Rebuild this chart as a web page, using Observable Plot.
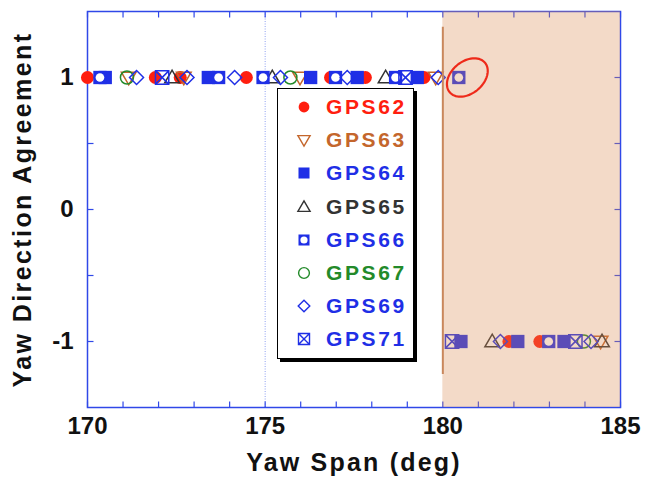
<!DOCTYPE html>
<html><head><meta charset="utf-8">
<script src="https://cdn.jsdelivr.net/npm/d3@7"></script>
<script src="https://cdn.jsdelivr.net/npm/@observablehq/plot@0.6"></script>
<style>
body{margin:0;background:#fff;}
#wrap{position:relative;width:646px;height:480px;font-family:"Liberation Sans",Arial,Helvetica,sans-serif;}
#legend{position:absolute;left:277px;top:88px;width:135px;height:269px;border:1px solid #000;box-shadow:3px 3px 0 #000;background:#fff;}
.row{position:absolute;left:0;width:135px;height:33px;}
.row svg{position:absolute;left:15px;top:5px;}
.row span{position:absolute;left:48px;top:3px;font-size:21px;font-weight:bold;letter-spacing:2.6px;line-height:26px;}
</style>
</head><body>
<div id="wrap"></div>
<script>
// ---- data (x = yaw span in deg) ----
const seriesNames = ["GPS62","GPS63","GPS64","GPS65","GPS66","GPS67","GPS69","GPS71"];
const gps62Agree = [170.0, 171.91, 172.61, 174.47, 176.84, 177.82, 179.47];
const gps62Disagree = [181.86, 182.73];
const gps63Agree = [171.16, 172.71, 175.98, 179.8];
const gps63Disagree = [184.44];
const gps64Agree = [170.5, 173.4, 176.28, 177.59, 179.28];
const gps64Disagree = [180.51, 182.11, 183.41];
const gps65Agree = [172.38, 175.2, 178.39];
const gps65Disagree = [181.39, 184.48];
const gps66Agree = [170.35, 173.69, 174.94, 176.98, 178.67, 180.45];
const gps66Disagree = [182.98];
const gps67Agree = [171.11, 175.71];
const gps67Disagree = [183.97];
const gps69Agree = [171.38, 172.8, 174.14, 175.43, 177.31, 179.87];
const gps69Disagree = [181.62, 184.17];
const gps71Agree = [172.1, 178.95];
const gps71Disagree = [180.26, 183.73];
const agreeLevels = [1, -1];

const xDomain = [170, 185];
const yDomain = [-1.5, 1.5];
const xTickLabels = [170, 175, 180, 185];
const yTickLabels = [1, 0, -1];
const xMinorTicks = [170,171,172,173,174,175,176,177,178,179,180,181,182,183,184,185];
const yMinorTicks = [-1, -0.5, 0, 0.5, 1];
const gridX = [175];
const flipRegion = [{x1: 180, x2: 185}];
const boundaryLine = [{x: 180, y1: 1.38, y2: -1.25}];
const highlight = [{x: 180.69, y: 1.0}];

// ---- symbols ----
const R = s => Math.sqrt(s / Math.PI);
const symCircle = {draw(c, s){const r = R(s)*0.93; c.moveTo(r,0); c.arc(0,0,r,0,2*Math.PI);}};
const symSquare = {draw(c, s){const r = R(s)*0.95; c.rect(-r,-r,2*r,2*r);}};
const symTriUp = {draw(c, s){const r = R(s); c.moveTo(-r*1.05, r*0.75); c.lineTo(r*1.05, r*0.75); c.lineTo(0, -r*1.05); c.closePath();}};
const symTriDown = {draw(c, s){const r = R(s); c.moveTo(-r*1.05, -r*0.75); c.lineTo(r*1.05, -r*0.75); c.lineTo(0, r*1.05); c.closePath();}};
const symDiamond = {draw(c, s){const r = R(s)*1.0; c.moveTo(0,-r); c.lineTo(r,0); c.lineTo(0,r); c.lineTo(-r,0); c.closePath();}};
const symSquareX = {draw(c, s){const r = R(s)*0.95; c.rect(-r,-r,2*r,2*r); c.moveTo(-r,-r); c.lineTo(r,r); c.moveTo(r,-r); c.lineTo(-r,r);}};
const symInnerCircle = {draw(c, s){const r = R(s)*0.62; c.moveTo(r,0); c.arc(0,0,r,0,2*Math.PI);}};
const tickUp = {draw(c){c.moveTo(0,0); c.lineTo(0,-6);}};
const tickDown = {draw(c){c.moveTo(0,0); c.lineTo(0,6);}};
const tickRight = {draw(c){c.moveTo(0,0); c.lineTo(6,0);}};
const tickLeft = {draw(c){c.moveTo(0,0); c.lineTo(-6,0);}};
const symEllipse = {draw(c){
  const rx = 23, ry = 16, a = -40*Math.PI/180, n = 72;
  for (let i = 0; i <= n; i++) {
    const t = 2*Math.PI*i/n, ex = rx*Math.cos(t), ey = ry*Math.sin(t);
    const px = ex*Math.cos(a) - ey*Math.sin(a), py = ex*Math.sin(a) + ey*Math.cos(a);
    if (i === 0) c.moveTo(px, py); else c.lineTo(px, py);
  }
  c.closePath();
}};

const RED = "#ff1e0f", ORANGE = "#c4662c", BLUE = "#1f2fe6", DARK = "#333333", GREEN = "#238a2a";

const series = [
  {name: "GPS62", agree: gps62Agree, dis: gps62Disagree, sym: symCircle, fill: RED, stroke: "none", text: RED},
  {name: "GPS63", agree: gps63Agree, dis: gps63Disagree, sym: symTriDown, fill: "none", stroke: ORANGE, text: ORANGE},
  {name: "GPS64", agree: gps64Agree, dis: gps64Disagree, sym: symSquare, fill: BLUE, stroke: "none", text: BLUE},
  {name: "GPS65", agree: gps65Agree, dis: gps65Disagree, sym: symTriUp, fill: "none", stroke: DARK, text: DARK},
  {name: "GPS66", agree: gps66Agree, dis: gps66Disagree, sym: symSquare, fill: BLUE, stroke: "none", text: BLUE, inner: true},
  {name: "GPS67", agree: gps67Agree, dis: gps67Disagree, sym: symCircle, fill: "none", stroke: GREEN, text: GREEN},
  {name: "GPS69", agree: gps69Agree, dis: gps69Disagree, sym: symDiamond, fill: "none", stroke: BLUE, text: BLUE},
  {name: "GPS71", agree: gps71Agree, dis: gps71Disagree, sym: symSquareX, fill: "none", stroke: BLUE, text: BLUE}
];

const pointMarks = [];
for (const s of series) {
  const data = [...s.agree.map(x => ({x, y: agreeLevels[0]})), ...s.dis.map(x => ({x, y: agreeLevels[1]}))];
  pointMarks.push(Plot.dot(data, {x: "x", y: "y", r: 7, symbol: s.sym, fill: s.fill, stroke: s.stroke, strokeWidth: 1.5}));
  if (s.inner) pointMarks.push(Plot.dot(data, {x: "x", y: "y", r: 7, symbol: symInnerCircle, fill: "#fff", stroke: "none"}));
}

const FONT = "Liberation Sans, Arial, Helvetica, sans-serif";
const chart = Plot.plot({
  width: 646, height: 480,
  marginLeft: 87, marginRight: 26, marginTop: 11, marginBottom: 73,
  style: {fontFamily: FONT, background: "#fff", overflow: "visible"},
  x: {domain: xDomain, axis: null},
  y: {domain: yDomain, axis: null},
  marks: [
    Plot.ruleX(gridX, {stroke: "#8fa0f0", strokeWidth: 1, strokeDasharray: "1,1.5"}),
    Plot.frame({stroke: "#3048e8", strokeWidth: 1.5}),
    Plot.dot(xMinorTicks, {x: d => d, frameAnchor: "bottom", symbol: tickUp, r: 1, stroke: "#3048e8", strokeWidth: 1.2}),
    Plot.dot(xMinorTicks, {x: d => d, frameAnchor: "top", symbol: tickDown, r: 1, stroke: "#3048e8", strokeWidth: 1.2}),
    Plot.dot(yMinorTicks, {y: d => d, frameAnchor: "left", symbol: tickRight, r: 1, stroke: "#3048e8", strokeWidth: 1.2}),
    Plot.dot(yMinorTicks, {y: d => d, frameAnchor: "right", symbol: tickLeft, r: 1, stroke: "#3048e8", strokeWidth: 1.2}),
    ...pointMarks,
    Plot.rect(flipRegion, {x1: "x1", x2: "x2", y1: () => yDomain[0], y2: () => yDomain[1], fill: "rgb(218,140,84)", fillOpacity: 0.32}),
    Plot.ruleX(boundaryLine, {x: "x", y1: "y1", y2: "y2", stroke: "#c9875c", strokeWidth: 2}),
    Plot.dot(highlight, {x: "x", y: "y", r: 1, symbol: symEllipse, fill: "none", stroke: "#ee2a1a", strokeWidth: 2.2}),
    Plot.text(xTickLabels, {x: d => d, frameAnchor: "bottom", dy: 26, lineAnchor: "bottom", text: d => String(d), fontSize: 24, fontWeight: "bold", fill: "#111"}),
    Plot.text(yTickLabels, {y: d => d, frameAnchor: "left", dx: -14, textAnchor: "end", text: d => String(d), fontSize: 24, fontWeight: "bold", fill: "#111"}),
    Plot.text(["Yaw Span (deg)"], {frameAnchor: "bottom", dy: 63, lineAnchor: "bottom", textAnchor: "middle", text: d => d, fontSize: 25, fontWeight: "bold", fill: "#111"}),
    Plot.text(["Yaw Direction Agreement"], {frameAnchor: "left", dx: -65, rotate: -90, textAnchor: "middle", text: d => d, fontSize: 25, fontWeight: "bold", fill: "#111"})
  ]
});
const wrap = document.getElementById("wrap");
wrap.appendChild(chart);
d3.select(chart).selectAll("text").filter(function(){return this.textContent === "Yaw Span (deg)";}).style("letter-spacing", "2.2px");
d3.select(chart).selectAll("text").filter(function(){return this.textContent === "Yaw Direction Agreement";}).style("letter-spacing", "2.4px");

// ---- legend ----
const legend = document.createElement("div");
legend.id = "legend";
wrap.appendChild(legend);
series.forEach((s, i) => {
  const row = d3.select(legend).append("div").attr("class", "row").style("top", (2 + i * 33.2) + "px");
  const svg = row.append("svg").attr("width", 22).attr("height", 22);
  const g = svg.append("g").attr("transform", "translate(11,11)");
  const size = Math.PI * 5.8 * 5.8;
  g.append("path").attr("d", d3.symbol(s.sym, size)()).attr("fill", s.fill).attr("stroke", s.stroke).attr("stroke-width", 1.4);
  if (s.inner) g.append("path").attr("d", d3.symbol(symInnerCircle, size)()).attr("fill", "#fff");
  row.append("span").style("color", s.text).text(s.name);
});
</script>
</body></html>
